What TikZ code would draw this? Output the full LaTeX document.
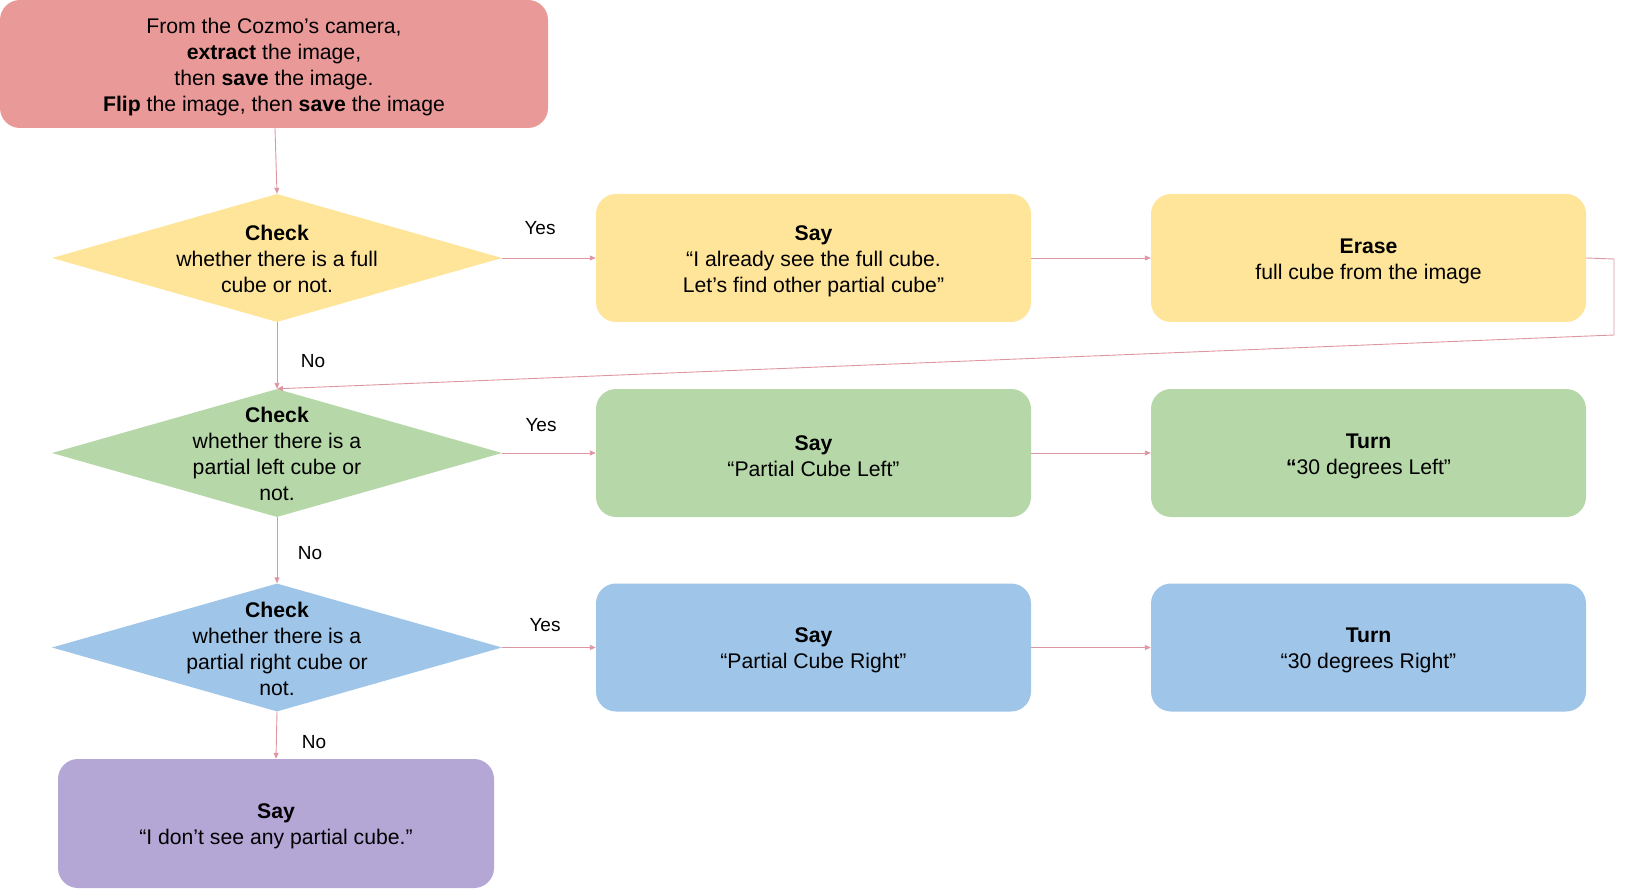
\documentclass[tikz,border=0pt]{standalone}
\usepackage{fontspec}
\setmainfont{Liberation Sans}
\usetikzlibrary{arrows.meta,shapes.geometric}
\definecolor{cred}{HTML}{EA9999}
\definecolor{cyel}{HTML}{FFE599}
\definecolor{cgrn}{HTML}{B6D7A8}
\definecolor{cblu}{HTML}{9FC5E8}
\definecolor{cpur}{HTML}{B4A7D6}
\definecolor{cline}{RGB}{222,150,160}
\begin{document}
\begin{tikzpicture}[x=1pt,y=-1pt,
  txt/.style={font=\fontsize{21.2}{26}\selectfont, align=center, text=black, inner sep=0pt},
  btxt/.style={txt, yshift=-3pt},
  lbl/.style={font=\fontsize{19}{22}\selectfont, text=black, inner sep=0pt},
  boxnode/.style={rounded corners=20pt, minimum width=435pt, minimum height=128pt, inner sep=0pt},
  dia/.style={diamond, minimum width=450pt, minimum height=128pt, inner sep=0pt},
  conn/.style={draw=cline, line width=0.9pt, -{Triangle[length=6pt,width=5pt]}}
]
\useasboundingbox (0,0) rectangle (1652,893);

% top box
\node[boxnode, fill=cred, minimum width=548pt] (top) at (274,64) {};
\node[btxt] (topt) at (top.center)
  {From the Cozmo’s camera,\\ \textbf{extract} the image,\\ then \textbf{save} the image.\\ \textbf{Flip} the image, then \textbf{save} the image};

% row 1
\node[dia, fill=cyel] (d1) at (277,258) {};
\node[txt, yshift=-1pt] (d1t) at (d1.center) {\textbf{Check}\\ whether there is a full\\ cube or not.};
\node[boxnode, fill=cyel] (say1) at (813.5,258) {};
\node[btxt] (say1t) at (say1.center) {\textbf{Say}\\ “I already see the full cube.\\ Let’s find other partial cube”};
\node[boxnode, fill=cyel] (erase) at (1368.5,258) {};
\node[btxt] (eraset) at (erase.center) {\textbf{Erase}\\ full cube from the image};

% row 2
\node[dia, fill=cgrn] (d2) at (277,453) {};
\node[txt, yshift=-1pt] (d2t) at (d2.center) {\textbf{Check}\\ whether there is a\\ partial left cube or\\ not.};
\node[boxnode, fill=cgrn] (say2) at (813.5,453) {};
\node[btxt] (say2t) at (say2.center) {\textbf{Say}\\ “Partial Cube Left”};
\node[boxnode, fill=cgrn] (turn2) at (1368.5,453) {};
\node[btxt] (turn2t) at (turn2.center) {\textbf{Turn}\\ \textbf{“}30 degrees Left”};

% row 3
\node[dia, fill=cblu] (d3) at (277,647.5) {};
\node[txt, yshift=-1pt] (d3t) at (d3.center) {\textbf{Check}\\ whether there is a\\ partial right cube or\\ not.};
\node[boxnode, fill=cblu] (say3) at (813.5,647.5) {};
\node[btxt] (say3t) at (say3.center) {\textbf{Say}\\ “Partial Cube Right”};
\node[boxnode, fill=cblu] (turn3) at (1368.5,647.5) {};
\node[btxt] (turn3t) at (turn3.center) {\textbf{Turn}\\ “30 degrees Right”};

% bottom
\node[boxnode, fill=cpur, minimum width=436pt, minimum height=129pt] (none) at (276,823.5) {};
\node[btxt] (nonet) at (none.center) {\textbf{Say}\\ “I don’t see any partial cube.”};

% connectors
\coordinate (topout) at (275,128);
\draw[conn] (topout) -- (d1.north);
\draw[conn] (d1.east) -- (say1.west);
\draw[conn] (say1.east) -- (erase.west);
\coordinate (fb1) at (1614,259);
\coordinate (fb2) at (1614,335);
\draw[conn] (erase.east) -- (fb1) -- (fb2) -- (d2.north);
\draw[conn] (d1.south) -- (d2.north);
\draw[conn] (d2.east) -- (say2.west);
\draw[conn] (say2.east) -- (turn2.west);
\draw[conn] (d2.south) -- (d3.north);
\draw[conn] (d3.east) -- (say3.west);
\draw[conn] (say3.east) -- (turn3.west);
\draw[conn] (d3.south) -- (none.north);

% labels
\node[lbl] (y1) at (540,228) {Yes};
\node[lbl] (y2) at (541,425) {Yes};
\node[lbl] (y3) at (545,625) {Yes};
\node[lbl] (n1) at (313,361) {No};
\node[lbl] (n2) at (310,553) {No};
\node[lbl] (n3) at (314,742) {No};
\end{tikzpicture}
\end{document}
